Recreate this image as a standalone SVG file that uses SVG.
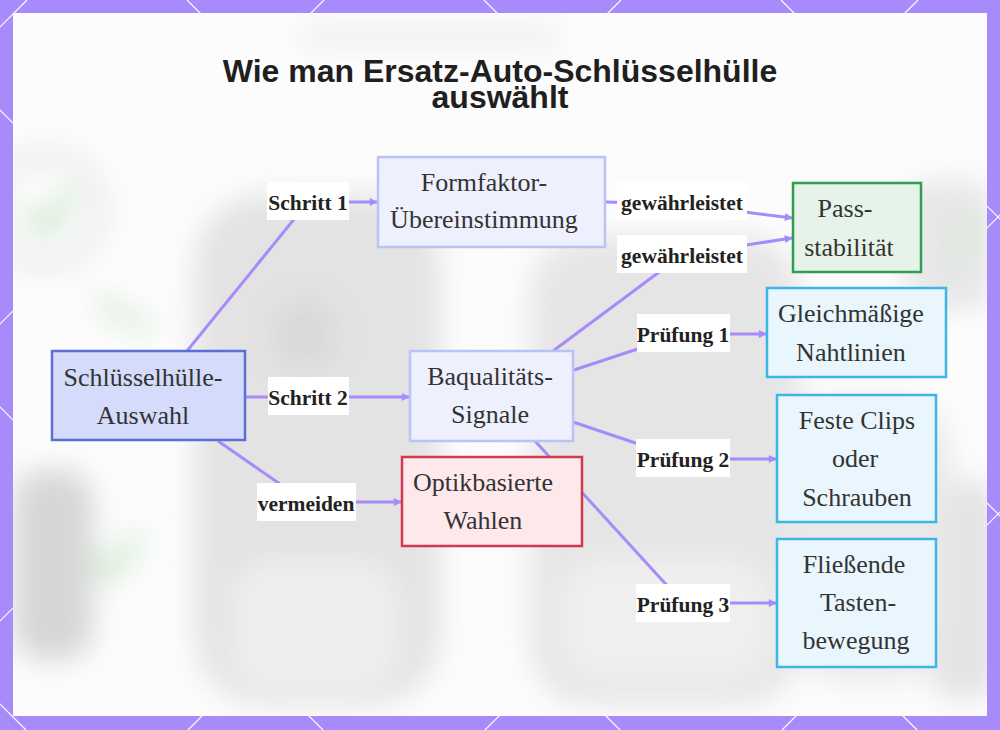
<svg xmlns="http://www.w3.org/2000/svg" width="1000" height="730" viewBox="0 0 1000 730">
<defs>
  <style>
    .title{font-family:"Liberation Sans",Arial,sans-serif;font-weight:bold;font-size:32px;fill:#1f1f1f;text-anchor:middle}
    .nt{font-family:"Liberation Serif","Times New Roman",serif;font-size:26px;fill:#333;text-anchor:middle}
    .lt{font-family:"Liberation Serif","Times New Roman",serif;font-weight:bold;font-size:21.5px;fill:#222;text-anchor:middle}
    .lbg{fill:#ffffff}
    .edge{fill:none;stroke:#a78bfa;stroke-width:3;stroke-linejoin:round}
    .arr{marker-end:url(#ah)}
    .main rect{fill:#d5dbfa;stroke:#5a6fd8;stroke-width:2.5}
    .soft rect{fill:#eef0fd;stroke:#b9c3f6;stroke-width:2.5}
    .ok rect{fill:#e5f3e8;stroke:#2f9e50;stroke-width:2.5}
    .chk rect{fill:#e9f6fd;stroke:#3db5e6;stroke-width:2.5}
    .bad rect{fill:#fde8eb;stroke:#d2384f;stroke-width:2.5}
    .lat{stroke:#ffffff;stroke-width:1.2;fill:none}
  </style>
  <marker id="ah" viewBox="0 0 10 10" refX="9" refY="5" markerWidth="9" markerHeight="8" markerUnits="userSpaceOnUse" orient="auto">
    <path d="M0,0 L10,5 L0,10 z" fill="#a78bfa"/>
  </marker>
  <filter id="blur" x="-30%" y="-30%" width="160%" height="160%">
    <feGaussianBlur stdDeviation="14"/>
  </filter>
  <clipPath id="inner"><rect x="13" y="13" width="974" height="703"/></clipPath>
</defs>

<!-- frame -->
<rect x="0" y="0" width="1000" height="730" fill="#a78bfa"/>
<g class="lat">
  <path d="M-704,0 L26,730 M-407,0 L323,730 M-110,0 L620,730 M187,0 L917,730 M484,0 L1214,730 M781,0 L1511,730"/>
  <path d="M27,0 L-703,730 M324,0 L-406,730 M621,0 L-109,730 M918,0 L188,730 M1215,0 L485,730 M1512,0 L782,730"/>
</g>
<rect x="13" y="13" width="974" height="703" fill="#fcfcfc"/>

<!-- faded photo background -->
<g clip-path="url(#inner)" filter="url(#blur)" opacity="0.55">
  <rect x="195" y="195" width="245" height="510" rx="70" fill="#cfcfcf"/>
  <rect x="230" y="560" width="170" height="130" rx="40" fill="#e4e4e4"/>
  <rect x="275" y="300" width="60" height="70" rx="25" fill="#bdbdbd"/>
  <rect x="530" y="235" width="270" height="470" rx="60" fill="#d4d4d4"/>
  <rect x="560" y="560" width="210" height="120" rx="40" fill="#e6e6e6"/>
  <rect x="13" y="470" width="80" height="190" rx="30" fill="#b8b8b8"/>
  <rect x="905" y="180" width="90" height="130" rx="30" fill="#d6d6d6"/>
  <rect x="930" y="480" width="70" height="220" rx="30" fill="#d0d0d0"/>
  <rect x="790" y="400" width="160" height="280" rx="50" fill="#dadada"/>
  <circle cx="45" cy="210" r="55" fill="none" stroke="#d8d8d8" stroke-width="14"/>
  <path d="M25,210 L45,230 L75,190" fill="none" stroke="#9fd49f" stroke-width="14"/>
  <path d="M90,555 L110,575 L140,535" fill="none" stroke="#a9d9a9" stroke-width="14"/>
  <path d="M945,235 L960,250 L985,220" fill="none" stroke="#b2ddb2" stroke-width="12"/>
  <path d="M95,300 L150,330" fill="none" stroke="#b5dcb5" stroke-width="14"/>
  <rect x="300" y="28" width="260" height="18" rx="9" fill="#e0e0e0"/>
</g>

<!-- title -->
<text class="title" x="500" y="82">Wie man Ersatz-Auto-Schlüsselhülle</text>
<text class="title" x="500" y="108">auswählt</text>

<!-- connectors -->
<g id="connectors">
  <path class="edge arr" d="M187,351 L308,202 L377,202"/>
  <path class="edge arr" d="M246,397 L409,397"/>
  <path class="edge arr" d="M218,441 L306,502 L401,502"/>
  <path class="edge arr" d="M605,202 L682,204 L792,218"/>
  <path class="edge arr" d="M553,351 L682,255 L792,238"/>
  <path class="edge arr" d="M574,370 L683,334 L766,334"/>
  <path class="edge arr" d="M573,422 L683,459 L776,459"/>
  <path class="edge arr" d="M535,441 L683,603 L776,603"/>

  <g id="edge-labels">
    <rect class="lbg" x="267" y="182" width="82" height="38"/>
    <text class="lt" x="308" y="210">Schritt 1</text>
    <rect class="lbg" x="268" y="377" width="81" height="38"/>
    <text class="lt" x="308" y="405">Schritt 2</text>
    <rect class="lbg" x="257" y="483" width="99" height="38"/>
    <text class="lt" x="306" y="511">vermeiden</text>
    <rect class="lbg" x="617" y="182" width="130" height="38"/>
    <text class="lt" x="682" y="210">gewährleistet</text>
    <rect class="lbg" x="617" y="235" width="130" height="38"/>
    <text class="lt" x="682" y="263">gewährleistet</text>
    <rect class="lbg" x="637" y="314" width="93" height="38"/>
    <text class="lt" x="683" y="342">Prüfung 1</text>
    <rect class="lbg" x="636" y="439" width="94" height="38"/>
    <text class="lt" x="683" y="467">Prüfung 2</text>
    <rect class="lbg" x="636" y="584" width="94" height="38"/>
    <text class="lt" x="683" y="612">Prüfung 3</text>
  </g>
</g>

<!-- nodes -->
<g id="node-auswahl" class="main">
  <rect x="52" y="351" width="193" height="89"/>
  <text class="nt" x="143" y="386">Schlüsselhülle-</text>
  <text class="nt" x="143" y="424">Auswahl</text>
</g>
<g id="node-formfaktor" class="soft">
  <rect x="378" y="157" width="227" height="90"/>
  <text class="nt" x="484" y="191">Formfaktor-</text>
  <text class="nt" x="484" y="228">Übereinstimmung</text>
</g>
<g id="node-bauqualitaet" class="soft">
  <rect x="410" y="351" width="163" height="90"/>
  <text class="nt" x="490" y="385">Baqualitäts-</text>
  <text class="nt" x="490" y="423">Signale</text>
</g>
<g id="node-optik" class="bad">
  <rect x="402" y="457" width="180" height="89"/>
  <text class="nt" x="483" y="491">Optikbasierte</text>
  <text class="nt" x="483" y="529">Wahlen</text>
</g>
<g id="node-pass" class="ok">
  <rect x="793" y="183" width="128" height="89"/>
  <text class="nt" x="845" y="217">Pass-</text>
  <text class="nt" x="849" y="256">stabilität</text>
</g>
<g id="node-naht" class="chk">
  <rect x="767" y="288" width="179" height="89"/>
  <text class="nt" x="851" y="322">Gleichmäßige</text>
  <text class="nt" x="851" y="361">Nahtlinien</text>
</g>
<g id="node-clips" class="chk">
  <rect x="777" y="395" width="159" height="127"/>
  <text class="nt" x="857" y="429">Feste Clips</text>
  <text class="nt" x="855" y="467">oder</text>
  <text class="nt" x="857" y="506">Schrauben</text>
</g>
<g id="node-tasten" class="chk">
  <rect x="777" y="539" width="159" height="128"/>
  <text class="nt" x="854" y="573">Fließende</text>
  <text class="nt" x="858" y="611">Tasten-</text>
  <text class="nt" x="856" y="649">bewegung</text>
</g>
</svg>
